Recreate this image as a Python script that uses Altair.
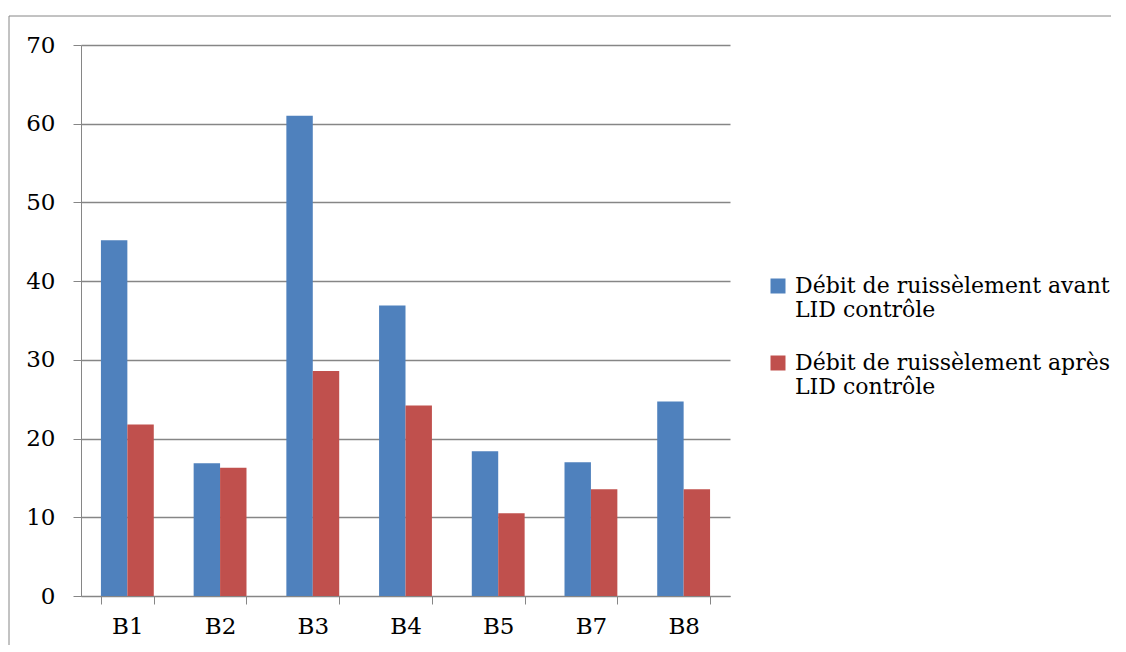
import altair as alt
import pandas as pd

categories = ["B1", "B2", "B3", "B4", "B5", "B7", "B8"]
series = ["Débit de ruissèlement avant\nLID contrôle", "Débit de ruissèlement après\nLID contrôle"]
avant = [45.2, 16.85, 61.0, 36.9, 18.4, 17.0, 24.7]
apres = [21.8, 16.3, 28.6, 24.2, 10.5, 13.55, 13.55]
colors = ["#4F81BD", "#C0504D"]
y_ticks = [0, 10, 20, 30, 40, 50, 60, 70]

rows = []
for c, a, b in zip(categories, avant, apres):
    rows.append({"cat": c, "series": series[0], "value": a})
    rows.append({"cat": c, "series": series[1], "value": b})
df = pd.DataFrame(rows)

FONT = "DejaVu Serif"
GRAY = "#868686"

bars = alt.Chart(df).mark_bar().encode(
    x=alt.X("cat:N", sort=categories,
            scale=alt.Scale(paddingInner=0.43, paddingOuter=0.215),
            axis=alt.Axis(title=None, labelAngle=0, tickBand="extent",
                          labelFont=FONT, labelFontSize=23, labelColor="black",
                          tickSize=8, tickColor=GRAY, domainColor=GRAY,
                          labelPadding=11, grid=False)),
    xOffset=alt.XOffset("series:N", sort=series,
                        scale=alt.Scale(paddingInner=0, paddingOuter=0)),
    y=alt.Y("value:Q", scale=alt.Scale(domain=[0, 70], nice=False),
            axis=alt.Axis(title=None, values=y_ticks, labelFont=FONT,
                          labelFontSize=23, labelColor="black", tickSize=8,
                          tickColor=GRAY, domainColor=GRAY, gridColor=GRAY,
                          gridWidth=1.3, labelPadding=18)),
    color=alt.Color("series:N", sort=series,
                    scale=alt.Scale(domain=series, range=colors),
                    legend=alt.Legend(title=None, orient="none", legendX=686,
                                      legendY=230, labelFont=FONT,
                                      labelFontSize=22, labelColor="black",
                                      symbolType="square", symbolSize=225,
                                      symbolStrokeWidth=0, rowPadding=31,
                                      labelLimit=400, labelOffset=6,
                                      labelExpr="split(datum.label, '\\n')")),
)

one = pd.DataFrame({"k": [0]})
left_border = alt.Chart(one).mark_rule(color=GRAY, strokeWidth=1).encode(
    x=alt.value(-72), y=alt.value(-29), y2=alt.value(600))
top_border = alt.Chart(one).mark_rule(color=GRAY, strokeWidth=1).encode(
    x=alt.value(-72), x2=alt.value(1030), y=alt.value(-29))

chart = alt.layer(bars, left_border, top_border).properties(
    width=649, height=551,
    padding={"left": 0, "top": 7, "right": 0, "bottom": 0},
).configure_view(stroke=None)

chart.save("out.html", embed_options={"renderer": "svg", "actions": False})
